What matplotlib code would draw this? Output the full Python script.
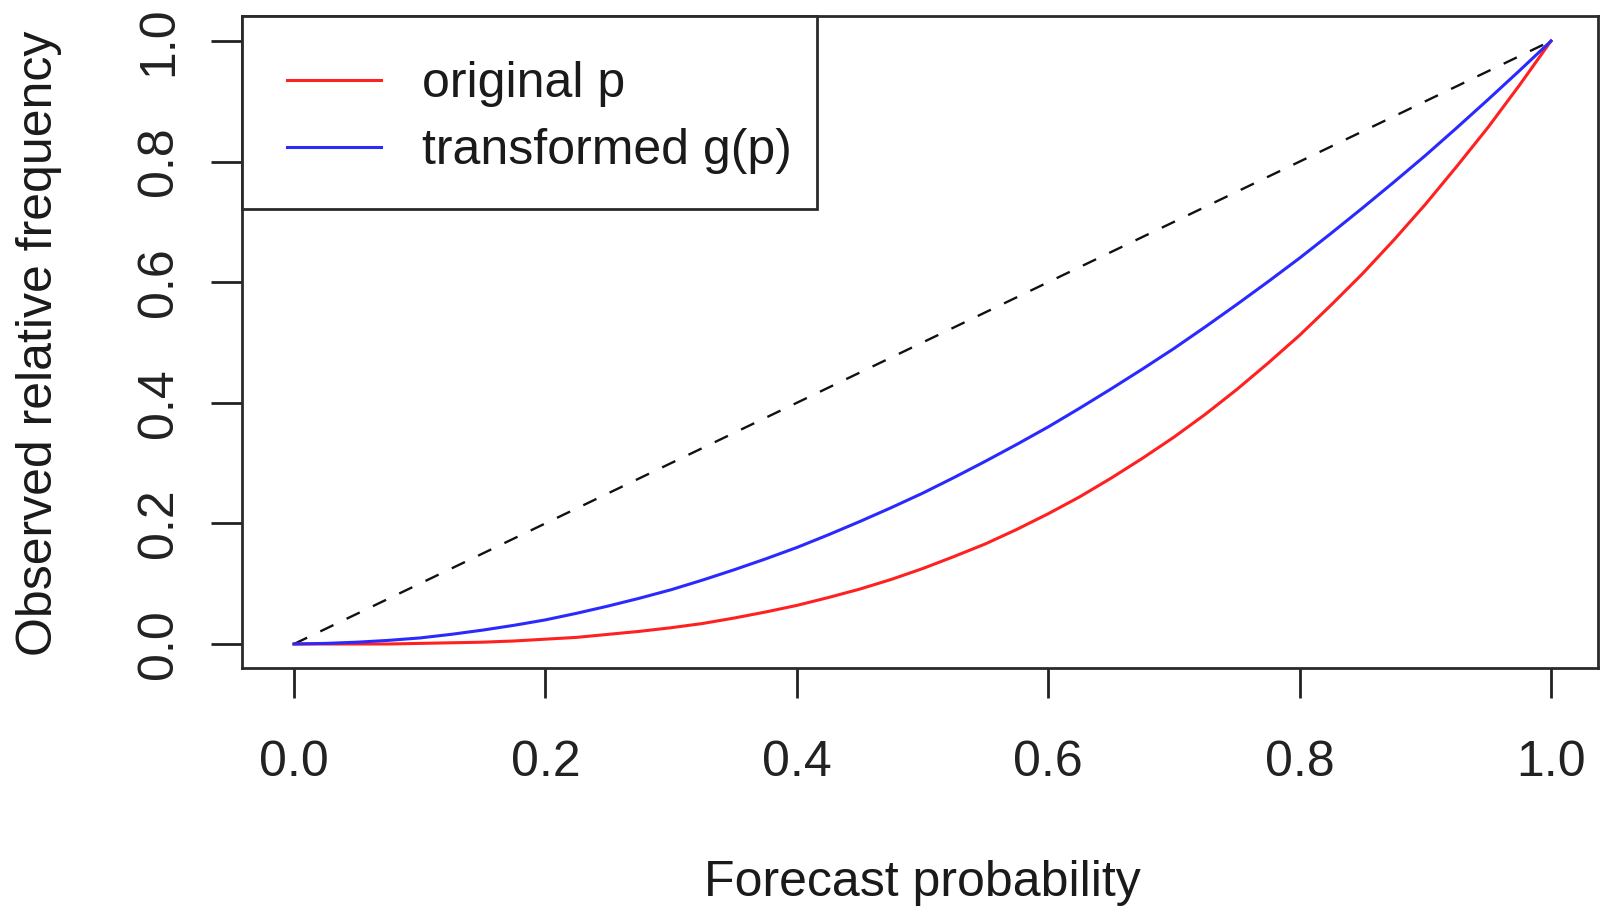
import matplotlib
matplotlib.use('Agg')
import matplotlib.pyplot as plt
from matplotlib.patches import Rectangle

# values
forecast_p = [0.000, 0.025, 0.050, 0.075, 0.100, 0.125, 0.150, 0.175, 0.200, 0.225,
              0.250, 0.275, 0.300, 0.325, 0.350, 0.375, 0.400, 0.425, 0.450, 0.475,
              0.500, 0.525, 0.550, 0.575, 0.600, 0.625, 0.650, 0.675, 0.700, 0.725,
              0.750, 0.775, 0.800, 0.825, 0.850, 0.875, 0.900, 0.925, 0.950, 0.975, 1.000]
original_p = [0.000, 0.000, 0.000, 0.000, 0.001, 0.002, 0.003, 0.005, 0.008, 0.011,
              0.016, 0.021, 0.027, 0.034, 0.043, 0.053, 0.064, 0.077, 0.091, 0.107,
              0.125, 0.145, 0.166, 0.190, 0.216, 0.244, 0.275, 0.308, 0.343, 0.381,
              0.422, 0.466, 0.512, 0.562, 0.614, 0.670, 0.729, 0.792, 0.857, 0.927, 1.000]
transformed_gp = [0.000, 0.001, 0.003, 0.006, 0.010, 0.016, 0.023, 0.031, 0.040, 0.051,
                  0.063, 0.076, 0.090, 0.106, 0.123, 0.141, 0.160, 0.181, 0.203, 0.226,
                  0.250, 0.276, 0.303, 0.331, 0.360, 0.391, 0.423, 0.456, 0.490, 0.526,
                  0.563, 0.601, 0.640, 0.681, 0.723, 0.766, 0.810, 0.856, 0.903, 0.951, 1.000]
diag = [0.0, 1.0]
ticks = [0.0, 0.2, 0.4, 0.6, 0.8, 1.0]
tick_labels = ['0.0', '0.2', '0.4', '0.6', '0.8', '1.0']

plt.rcParams['font.family'] = ['Liberation Sans', 'DejaVu Sans']
plt.rcParams['lines.scale_dashes'] = False
FS = 36

W, H = 1600, 906
fig = plt.figure(figsize=(16, 9.06), dpi=100)
L, R, T, B = 242, 1598, 16, 668
ax = fig.add_axes([L / W, 1 - B / H, (R - L) / W, (B - T) / H])

ax.plot(diag, diag, color='#111111', lw=1.7, ls=(0, (10.5, 10.5)))
ax.plot(forecast_p, original_p, color='#ff2020', lw=2.2, label='original p')
ax.plot(forecast_p, transformed_gp, color='#2a2aff', lw=2.2, label='transformed g(p)')

# x: 0 -> 294px, 1 -> 1551px ; y: 0 -> 644px, 1 -> 41px
ax.set_xlim(-(294 - L) / 1257, 1 + (R - 1551) / 1257)
ax.set_ylim(-(B - 644) / 603, 1 + (41 - T) / 603)
ax.set_xticks(ticks)
ax.set_xticklabels(tick_labels, fontsize=FS)
ax.set_yticks(ticks)
ax.set_yticklabels(tick_labels, fontsize=FS, rotation=90, va='center')
ax.tick_params(axis='x', length=21.5, width=2.0, pad=30, colors='#222222')
ax.tick_params(axis='y', length=22, width=2.0, pad=21, colors='#222222')
for s in ax.spines.values():
    s.set_linewidth(2.0)
    s.set_color('#2a2a2a')

# legend box
ax.add_patch(Rectangle((0, (B - 209) / (B - T)), (817 - L) / (R - L), (209 - T) / (B - T),
                       transform=ax.transAxes, facecolor='white', edgecolor='#2a2a2a',
                       lw=2.0, zorder=4, clip_on=False))
leg = ax.legend(loc='upper left', bbox_to_anchor=(0, 1.0), frameon=False, fontsize=FS,
                handlelength=1.88, handletextpad=0.82, borderpad=0.9, borderaxespad=0,
                labelspacing=0.42)
leg.set_zorder(5)
for line in leg.get_lines():
    line.set_linewidth(2.2)
for t in leg.get_texts():
    t.set_color('#1a1a1a')

fig.text(922 / W, 1 - 896 / H, 'Forecast probability', fontsize=FS, ha='center',
         va='baseline', color='#1a1a1a')
fig.text(39 / W, 1 - 343 / H, 'Observed relative frequency', fontsize=FS,
         rotation=90, ha='center', va='center', color='#1a1a1a')

fig.savefig('out.png', dpi=100)
